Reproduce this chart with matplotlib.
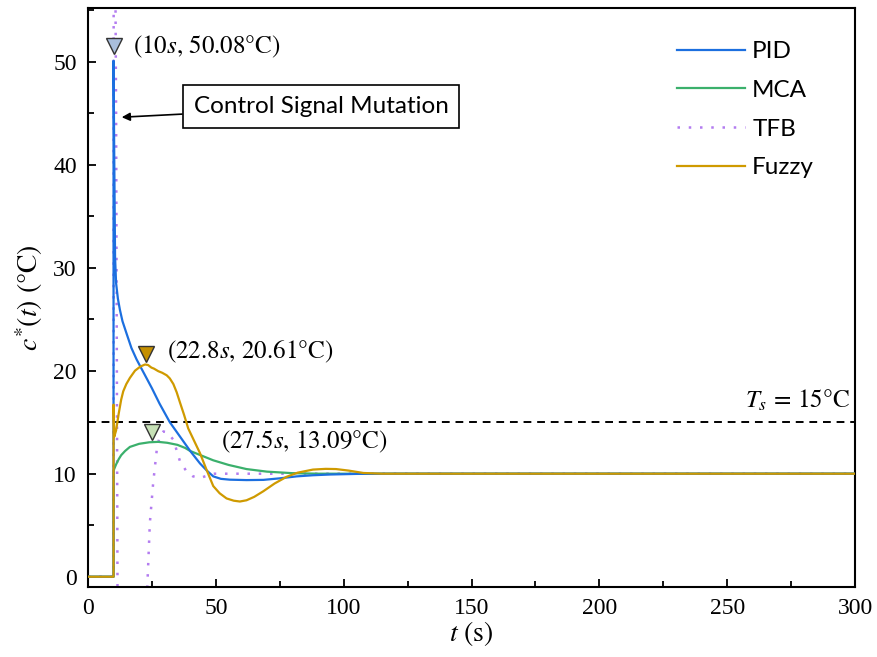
import matplotlib
matplotlib.use("Agg")
import matplotlib.pyplot as plt

plt.rcParams['mathtext.fontset'] = 'stix'
plt.rcParams['font.family'] = ['Liberation Serif', 'DejaVu Sans']

# readings taken from the chart (time in s, temperature in degC)
pid_t = [0, 10, 10, 10.3, 10.6, 11, 11.7, 12.5, 13.5, 15.1, 17, 19, 22, 25, 28, 32, 36, 40, 43.8,
         46.5, 49, 52, 55.5, 62, 68.6, 75, 81.6, 88, 94.6, 105, 120, 300]
pid_v = [0, 0, 50.08, 40, 31, 28.5, 27, 25.9, 24.8, 23.6, 22.2, 21.1, 19.7, 18.3, 16.8, 15.0, 13.6,
         12.2, 11.0, 10.3, 9.74, 9.5, 9.42, 9.38, 9.4, 9.55, 9.74, 9.85, 9.92, 9.98, 10.0, 10.0]

mca_t = [0, 10, 10, 11, 12, 13, 14.5, 16.4, 20, 24, 27.5, 31, 35, 38, 40, 45, 49, 55, 62, 70, 80,
         90, 300]
mca_v = [0, 0, 10.3, 10.9, 11.4, 11.8, 12.2, 12.6, 12.9, 13.05, 13.09, 13.0, 12.8, 12.5, 12.2, 11.7,
         11.3, 10.85, 10.45, 10.2, 10.05, 10.0, 10.0]

tfb_t = [0, 10, 10.05, 10.4, 10.7, 11.0, 11.3, 11.6, 22.5, 23.2, 24.2, 25.5, 26.9, 28.0, 29.5, 31,
         33.4, 36, 38.6, 41, 43.8, 46.5, 49, 300]
tfb_v = [0, 0, 60, 58, 59, 45, 20, -5, -5, -1, 5.2, 9.1, 12.3, 13.6, 14.1, 14.0,
         13.3, 11.2, 10.2, 9.75, 9.58, 9.8, 10.0, 10.0]

fuzzy_t = [0, 10, 10, 10.3, 11, 12, 13, 13.8, 15, 16.4, 18.4, 20.5, 22.3, 23.5, 24.8, 25.8, 27.5,
           29, 30.8, 32, 33.4, 34.7, 36, 37.6, 39.2, 41.5, 43.8, 46.5, 49, 51.5, 54.2, 57, 59.4,
           62, 65, 68.6, 73, 77.7, 82, 88, 93, 97, 102, 107.7, 115, 125, 300]
fuzzy_v = [0, 0, 16.7, 13.6, 14.2, 15.8, 17.2, 18.0, 18.7, 19.3, 20.0, 20.4, 20.6, 20.55, 20.3,
           20.2, 19.95, 19.8, 19.55, 19.25, 18.7, 17.9, 16.9, 15.7, 14.4, 13.2, 12.0, 10.3, 8.8,
           8.1, 7.6, 7.38, 7.3, 7.42, 7.75, 8.3, 9.05, 9.7, 10.1, 10.4, 10.47, 10.45, 10.3, 10.07,
           10.0, 10.0, 10.0]

setpoint = 15
peak_t = [10, 22.8, 25]
peak_v = [51.5, 21.6, 14.0]
peak_text = [r'(10$s$, 50.08°C)', r'(22.8$s$, 20.61°C)', r'(27.5$s$, 13.09°C)']
text_xy = [(17.6, 51.4), (31, 21.8), (52, 13.1)]
peak_colors = ['#a9bedc', '#c48f00', '#c6e0b6']

fig = plt.figure(figsize=(8.77, 6.57), dpi=100)
ax = fig.add_axes([0.1003, 0.1065, 0.8747, 0.8813])

ax.plot(pid_t, pid_v, color='#1c6fdf', lw=1.6, label='PID', zorder=4)
ax.plot(mca_t, mca_v, color='#3bb06c', lw=1.6, label='MCA', zorder=3)
ax.plot(tfb_t, tfb_v, color='#b37cf0', lw=1.8, ls=(0, (1, 3.5)), label='TFB', zorder=2)
ax.plot(fuzzy_t, fuzzy_v, color='#cf9a00', lw=1.6, label='Fuzzy', zorder=5)

ax.axhline(setpoint, color='black', lw=1.4, ls=(0, (4, 3)), zorder=1)
ax.text(298, 15.8, r'$T_s\,=\,15$°C', ha='right', va='bottom', fontsize=18,
        family='STIXGeneral')

for px, py, c in zip(peak_t, peak_v, peak_colors):
    ax.plot(px, py, marker='v', ms=12, mfc=c, mec='#333333', mew=1, zorder=6)
for s, (tx, ty) in zip(peak_text, text_xy):
    ax.text(tx, ty, s, ha='left', va='center', fontsize=18, family='STIXGeneral')

ax.annotate('Control Signal Mutation', xy=(13.2, 44.6), xytext=(41.3, 45.6),
            fontsize=17.5, family='Lato', ha='left', va='center',
            bbox=dict(boxstyle='square,pad=0.45', fc='white', ec='black', lw=1.2),
            arrowprops=dict(arrowstyle='-|>', color='black', lw=1.2, mutation_scale=12,
                            shrinkA=0, shrinkB=0))

ax.set_xlim(0, 300)
ax.set_ylim(-1, 55.2)
ax.set_xticks(range(0, 301, 50))
ax.set_xticks(range(0, 301, 25), minor=True)
ax.set_yticks(range(0, 51, 10))
ax.set_yticks(range(0, 56, 5), minor=True)
ax.tick_params(which='both', direction='in', top=False, right=False, labelsize=17, pad=8)
ax.tick_params(which='major', length=6, width=1.3)
ax.tick_params(which='minor', length=4, width=1.3)
for sp in ax.spines.values():
    sp.set_linewidth(1.5)

ax.set_xlabel(r'$t$ (s)', fontsize=20, family='STIXGeneral', labelpad=0)
ax.set_ylabel(r'$c^{*}(t)$ (°C)', fontsize=20, family='STIXGeneral', labelpad=6)

leg = ax.legend(loc='upper right', frameon=False, prop={'family': 'Lato', 'size': 17.5},
                handlelength=2.8, labelspacing=0.72, handletextpad=0.3,
                bbox_to_anchor=(0.975, 0.98))

fig.savefig('out.png', dpi=100)
